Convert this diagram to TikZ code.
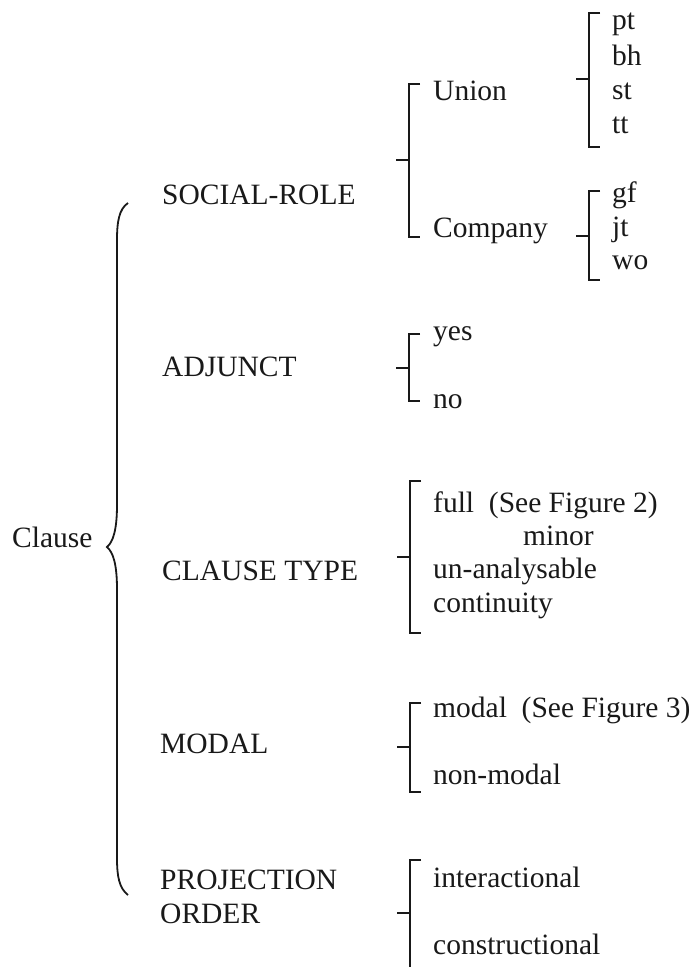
\documentclass[tikz,border=0pt]{standalone}
\usepackage{fontspec}
\setmainfont{Liberation Serif}
\usepackage{tikz}
\usetikzlibrary{calc}
\usepackage{xcolor}

\tikzset{
  brk/.style={line width=2pt,black!90},
  lbl/.style={font=\fontsize{29.5}{34}\selectfont,anchor=base west,inner sep=0pt,text=black!90}
}
% system bracket: x, top, tick, bottom
\newcommand{\sysbrk}[4]{%
  \draw[brk] (#1+11,#2) -- (#1,#2) -- (#1,#4) -- (#1+11,#4);
  \draw[brk] (#1-13,#3) -- (#1,#3);}

\begin{document}
\begin{tikzpicture}[x=1pt,y=-1pt]
    \useasboundingbox (0,0) rectangle (697,967);
    % the root and its brace
    \node[lbl] (clause) at (12,547) {Clause};
    \draw[line width=1.8pt,black!90] (128,203) .. controls (119,209) and (117,222) .. (117,240)
      -- (117,505) .. controls (117,530) and (113,542) .. (107,547)
      .. controls (113,552) and (117,564) .. (117,589)
      -- (117,858) .. controls (117,876) and (119,888) .. (128,895);
    % systems
    \node[lbl] (social) at (162,204) {SOCIAL-ROLE};
    \node[lbl] (adjunct) at (162,376) {ADJUNCT};
    \node[lbl] (ctype) at (162,580) {CLAUSE TYPE};
    \node[lbl] (modal) at (160,753) {MODAL};
    \node[lbl] (proj) at (160,889) {PROJECTION};
    \node[lbl] (order) at (160,923) {ORDER};
    % SOCIAL-ROLE
    \sysbrk{409}{84}{160}{237}
    \node[lbl] (union) at (433,100) {Union};
    \node[lbl] (company) at (433,237) {Company};
    \sysbrk{589}{13}{79}{147}
    \node[lbl] (pt) at (612,29) {pt};
    \node[lbl] (bh) at (612,65) {bh};
    \node[lbl] (st) at (612,99) {st};
    \node[lbl] (tt) at (612,133) {tt};
    \sysbrk{589}{191}{236}{280}
    \node[lbl] (gf) at (612,202) {gf};
    \node[lbl] (jt) at (612,236) {jt};
    \node[lbl] (wo) at (612,269) {wo};
    % ADJUNCT
    \sysbrk{409}{334}{368}{401}
    \node[lbl] (yes) at (433,340) {yes};
    \node[lbl] (no) at (433,408) {no};
    % CLAUSE TYPE
    \sysbrk{410}{481}{557}{633}
    \node[lbl] (full) at (433,512) {full\ \ (See Figure 2)};
    \node[lbl] (minor) at (523,545) {minor};
    \node[lbl] (unanal) at (433,578) {un-analysable};
    \node[lbl] (contin) at (433,612) {continuity};
    % MODAL
    \sysbrk{410}{703}{747}{792}
    \node[lbl] (ismodal) at (433,717) {modal\ \ (See Figure 3)};
    \node[lbl] (nonmodal) at (433,784) {non-modal};
    % PROJECTION ORDER
    \sysbrk{410}{860}{913}{975}
    \node[lbl] (inter) at (433,887) {interactional};
    \node[lbl] (constr) at (433,954) {constructional};
  \end{tikzpicture}
\end{document}
